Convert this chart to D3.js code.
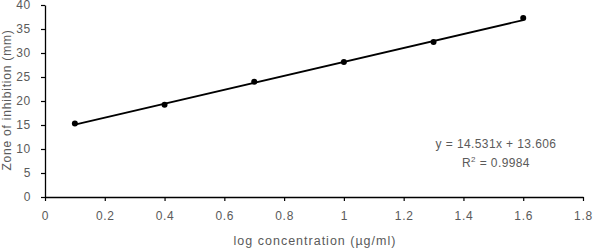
<!DOCTYPE html>
<html><head><meta charset="utf-8">
<script src="https://cdn.jsdelivr.net/npm/d3@7"></script>
<style>body{margin:0;background:#fff}svg text{font-family:"Liberation Sans",Arial,sans-serif}</style>
</head><body>
<svg id="c" width="594" height="249"></svg>
<script>
const xVals = [0.1, 0.4, 0.7, 1.0, 1.3, 1.6];
const yVals = [15.3, 19.2, 24.0, 28.1, 32.3, 37.3];
const xTicks = [0, 0.2, 0.4, 0.6, 0.8, 1, 1.2, 1.4, 1.6, 1.8];
const yTicks = [0, 5, 10, 15, 20, 25, 30, 35, 40];
const slope = [14.531];
const intercept = [13.606];
const eqLabels = ["y = 14.531x + 13.606", "0.9984"];

const svg = d3.select("#c");
const x = d3.scaleLinear().domain([0, 1.8]).range([45, 583]);
const y = d3.scaleLinear().domain([0, 40]).range([197, 5]);
const grey = "#5a5a5a";
const fs = 12;
const ls = 0.7;

const xa = svg.append("g").attr("transform","translate(0,197)")
  .call(d3.axisBottom(x).tickValues(xTicks).tickSize(4).tickPadding(10).tickSizeOuter(0).tickFormat(d=>d3.format("~g")(d)));
const ya = svg.append("g").attr("transform","translate(45,0)")
  .call(d3.axisLeft(y).tickValues(yTicks).tickSize(4).tickPadding(10).tickSizeOuter(0));
[xa,ya].forEach(g=>{
  g.select(".domain").attr("stroke","#000").attr("stroke-width",1.3);
  g.selectAll(".tick line").attr("stroke","#000").attr("stroke-width",1.2);
  g.selectAll(".tick text").attr("fill",grey).attr("font-size",fs).attr("letter-spacing",ls);
});

const f = v => slope[0]*v + intercept[0];
svg.append("line")
  .attr("x1",x(xVals[0])).attr("y1",y(f(xVals[0])))
  .attr("x2",x(xVals[xVals.length-1])).attr("y2",y(f(xVals[xVals.length-1])))
  .attr("stroke","#000").attr("stroke-width",1.8);

svg.selectAll("circle.p").data(xVals).join("circle")
  .attr("cx",d=>x(d)).attr("cy",(d,i)=>y(yVals[i])).attr("r",3).attr("fill","#000");

svg.append("text").attr("x",496).attr("y",148).attr("text-anchor","middle")
  .attr("fill",grey).attr("font-size",fs).attr("letter-spacing",0.4).text(eqLabels[0]);
const r2 = svg.append("text").attr("x",496).attr("y",167).attr("text-anchor","middle")
  .attr("fill",grey).attr("font-size",fs).attr("letter-spacing",0.4);
r2.append("tspan").text("R");
r2.append("tspan").attr("dy",-5).attr("font-size",8).text("2");
r2.append("tspan").attr("dy",5).text(" = " + eqLabels[1]);

svg.append("text").attr("x",315).attr("y",245).attr("text-anchor","middle")
  .attr("fill",grey).attr("font-size",12.5).attr("letter-spacing",1).text("log concentration (µg/ml)");
svg.append("text").attr("transform","translate(11,100) rotate(-90)").attr("text-anchor","middle")
  .attr("fill",grey).attr("font-size",12).attr("letter-spacing",0.8).text("Zone of inhibition (mm)");
</script>
</body></html>
